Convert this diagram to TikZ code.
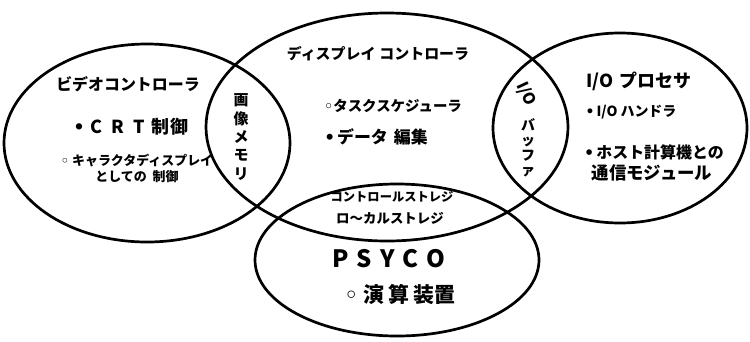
\documentclass[tikz,border=0pt]{standalone}
\usepackage{fontspec}
\setmainfont{Noto Sans CJK JP}
\newfontfamily\bfont{DejaVu Sans}
\newcommand{\fs}[2]{\fontsize{#1}{#2}\selectfont}
\newcommand{\dotb}{{\bfont •}}
\newcommand{\cirb}{{\bfont ◦}}
\tikzset{
  ring/.style={line width=2.7bp, black},
  lbl/.style={inner sep=0pt, align=center, font=\bfseries},
}
\begin{document}
\begin{tikzpicture}[x=1bp,y=-1bp]
\useasboundingbox (0,0) rectangle (750,341);
% circles
\draw[ring] (147,143) ellipse [x radius=143, y radius=99];
\draw[ring] (387,127) ellipse [x radius=181, y radius=114];
\draw[ring] (620,128) ellipse [x radius=127, y radius=95];
\draw[ring] (397,260) ellipse [x radius=142, y radius=76];
% video controller
\node[lbl, font=\bfseries\fs{16}{16}] (vc) at (128,84) {ビデオコントローラ};
\node[lbl, font=\bfseries\fs{18}{18}] (crt) at (131,127) {\dotb\hspace{6pt}C\hspace{9pt}R\hspace{9pt}T\hspace{7pt}制\hspace{1pt}御};
\node[lbl, font=\bfseries\fs{13}{16}] (chr) at (137,168) {\cirb\hspace{3pt}キャラクタディスプレイ\\としての\hspace{6pt}制御};
% image memory
\node[lbl, font=\bfseries\fs{15}{18.5}] (mem) at (241,137) {画\\像\\メ\\モ\\リ};
% display controller
\node[lbl, font=\bfseries\fs{15}{15}] (dc) at (378,54) {ディスプレイ\hspace{4pt}コントローラ};
\node[lbl, font=\bfseries\fs{14.5}{14.5}] (task) at (393,106) {\cirb タスクスケジューラ};
\node[lbl, font=\bfseries\fs{17}{17}] (edit) at (376,137) {\dotb\hspace{2pt}データ\hspace{6pt}編集};
% I/O buffer
\node[lbl, rotate=-65, font=\bfseries\fs{16}{16}] (iob) at (526,94) {I/O};
\node[lbl, font=\bfseries\fs{14}{15}] (buf) at (528,148) {バ\\ッ\\フ\\ァ};
% I/O processor
\node[lbl, font=\bfseries\fs{18}{18}] (iop) at (639,81) {I/O\hspace{6pt}プロセサ};
\node[lbl, font=\bfseries\fs{14}{14}] (ioh) at (631,112) {\dotb\hspace{2pt}I/O\hspace{3pt}ハンドラ};
\node[lbl, font=\bfseries\fs{16}{16}] (host) at (654,152) {\dotb\hspace{2pt}ホスト計算機との};
\node[lbl, font=\bfseries\fs{17.5}{17.5}] (comm) at (652,173) {通信モジュール};
% storage
\node[lbl, font=\bfseries\fs{12.3}{12.3}] (cs) at (392,197) {コントロールストレジ};
\node[lbl, font=\bfseries\fs{13.5}{13.5}] (ls) at (390,218) {ロ～カルストレジ};
% PSYCO
\node[lbl, font=\bfseries\fs{24}{24}] (psyco) at (389,259) {P\hspace{8pt}S\hspace{8pt}Y\hspace{8pt}C\hspace{8pt}O};
\node[lbl, font=\bfseries\fs{21}{21}] (alu) at (400,295) {\cirb\hspace{6pt}演\hspace{4pt}算\hspace{4pt}装置};
\end{tikzpicture}
\end{document}
